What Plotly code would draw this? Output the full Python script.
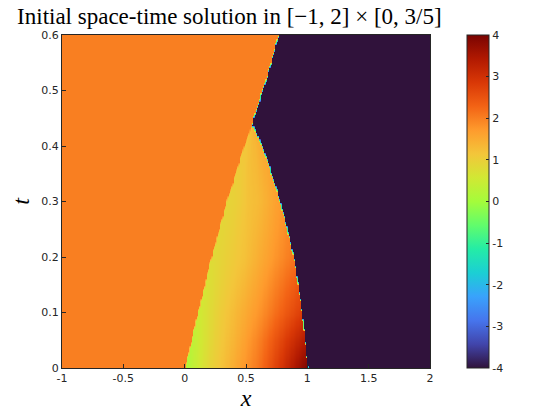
import numpy as np
import plotly.graph_objects as go

# grille espace-temps
x = np.linspace(-1, 2, 301)
t = np.linspace(0, 0.6, 101)

# états constants
u_left = 2.0
u_right = -4.0

# front droit (limite de la zone -4)
t_front = [0.0, 0.07, 0.13, 0.19, 0.25, 0.32, 0.40, 0.44, 0.52, 0.60]
x_front = [1.0, 0.97, 0.935, 0.895, 0.835, 0.75, 0.63, 0.545, 0.66, 0.76]

# bord gauche du coin (éventail)
t_left = [0.0, 0.1, 0.2, 0.3, 0.4, 0.44]
x_left = [0.0, 0.105, 0.215, 0.34, 0.48, 0.545]
t_apex = 0.44

# valeurs dans le coin : lignes = temps, colonnes = position relative
fan_t = [0.0, 0.05, 0.1, 0.2, 0.3, 0.44]
fan_s = [0.0, 0.2, 0.4, 0.6, 0.8, 1.0]
fan_u = [
    [0.1, 0.9, 1.5, 2.1, 3.0, 4.0],
    [0.3, 0.95, 1.45, 2.0, 2.7, 3.4],
    [0.5, 1.0, 1.4, 1.8, 2.3, 2.8],
    [0.8, 1.0, 1.2, 1.5, 1.8, 2.1],
    [0.9, 1.0, 1.2, 1.3, 1.5, 1.7],
    [1.2, 1.25, 1.3, 1.35, 1.4, 1.4],
]

cb_ticks = [-4, -3, -2, -1, 0, 1, 2, 3, 4]


def fan_value(s, tt):
    col = np.array([np.interp(s, fan_s, row) for row in fan_u])
    return np.interp(tt, fan_t, col)


z = np.full((len(t), len(x)), u_left)
for i, tt in enumerate(t):
    xf = np.interp(tt, t_front, x_front)
    for j, xx in enumerate(x):
        if xx > xf:
            z[i, j] = u_right
        elif tt < t_apex:
            xl = np.interp(tt, t_left, x_left)
            if xx > xl:
                s = (xx - xl) / max(xf - xl, 1e-9)
                z[i, j] = fan_value(s, tt)

fig = go.Figure(go.Heatmap(
    x=x, y=t, z=z,
    colorscale="Turbo", zmin=-4, zmax=4, zsmooth="best",
    colorbar=dict(
        x=1.1005, xanchor="left", xref="paper", xpad=0, ypad=0,
        y=0.5, yanchor="middle", len=1.0, lenmode="fraction",
        thickness=22, outlinewidth=1, outlinecolor="#262626",
        tickvals=cb_ticks, ticktext=[str(v) for v in cb_ticks],
        ticks="inside", ticklen=3, tickcolor="#262626",
        tickfont=dict(family="DejaVu Sans", size=11, color="#262626"),
    ),
))

axis_common = dict(
    showgrid=False, zeroline=False, showline=True, linecolor="#262626",
    linewidth=1, mirror=True, ticks="inside", ticklen=4, tickcolor="#262626",
    tickfont=dict(family="DejaVu Sans", size=11, color="#262626"),
    automargin=False,
)

# la page ajoute ~8 px de marge autour de la figure
fig.update_layout(
    width=552, height=412,
    margin=dict(l=54, r=130, t=27, b=52),
    paper_bgcolor="white", plot_bgcolor="white",
    title=dict(
        text="Initial space-time solution in [\u22121, 2] \u00d7 [0, 3/5]",
        font=dict(family="Liberation Serif", size=23, color="black"),
        x=0.401, xref="container", xanchor="center",
        y=1.0, yref="container", yanchor="top", pad=dict(t=0, b=0),
        automargin=False,
    ),
    xaxis=dict(
        range=[-1, 2], tickvals=[-1, -0.5, 0, 0.5, 1, 1.5, 2],
        ticktext=["-1", "-0.5", "0", "0.5", "1", "1.5", "2"],
        title=dict(text="<i>x</i>", font=dict(family="Liberation Serif", size=24, color="black"), standoff=2),
        **axis_common,
    ),
    yaxis=dict(
        range=[0, 0.6], tickvals=[0, 0.1, 0.2, 0.3, 0.4, 0.5, 0.6],
        ticktext=["0", "0.1", "0.2", "0.3", "0.4", "0.5", "0.6"],
        title=dict(text="<i>t</i>", font=dict(family="Liberation Serif", size=24, color="black"), standoff=12),
        **axis_common,
    ),
)

fig.write_html("out.html")
